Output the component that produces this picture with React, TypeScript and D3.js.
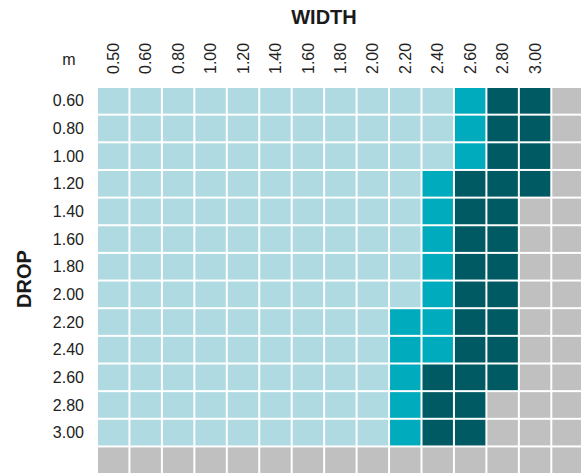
import React, { useRef, useEffect } from 'react';
import * as d3 from 'd3';

// width (columns) and drop (rows) values, in metres
const widths = ['0.50', '0.60', '0.80', '1.00', '1.20', '1.40', '1.60', '1.80', '2.00', '2.20', '2.40', '2.60', '2.80', '3.00', ''];
const drops = ['0.60', '0.80', '1.00', '1.20', '1.40', '1.60', '1.80', '2.00', '2.20', '2.40', '2.60', '2.80', '3.00', ''];

// class per cell: L = light, T = teal, D = dark, G = not available
const cells = [
  'LLLLLLLLLLLTDDG',
  'LLLLLLLLLLLTDDG',
  'LLLLLLLLLLLTDDG',
  'LLLLLLLLLLTDDDG',
  'LLLLLLLLLLTDDGG',
  'LLLLLLLLLLTDDGG',
  'LLLLLLLLLLTDDGG',
  'LLLLLLLLLLTDDGG',
  'LLLLLLLLLTTDDGG',
  'LLLLLLLLLTTDDGG',
  'LLLLLLLLLTDDDGG',
  'LLLLLLLLLTDDGGG',
  'LLLLLLLLLTDDGGG',
  'GGGGGGGGGGGGGGG',
];

const classColors: Record<string, string> = {
  L: '#b0dae2',
  T: '#00abbd',
  D: '#005a63',
  G: '#c0c0c0',
};

const W = 581;
const H = 473;

const App = () => {
  const svgRef = useRef<SVGSVGElement>(null);

  useEffect(() => {
    draw();
  }, []);

  const draw = () => {
    const svg = d3.select(svgRef.current);
    svg.selectAll('*').remove();

    const font = '"Liberation Sans", Arial, sans-serif';
    const left = 97;
    const top = 87;
    const colW = 32.45;
    const rowH = 27.65;

    const x = d3.scaleBand().domain(widths.map((d, i) => i + '')).range([left, left + widths.length * colW]);
    const y = d3.scaleBand().domain(drops.map((d, i) => i + '')).range([top, top + drops.length * rowH]);

    // flatten to cell records
    const data: { r: number; c: number; k: string }[] = [];
    cells.forEach((row, r) => {
      row.split('').forEach((k, c) => data.push({ r, c, k }));
    });

    svg.append('g')
      .selectAll('rect')
      .data(data)
      .enter()
      .append('rect')
      .attr('x', (d) => (x(d.c + '') as number) + 1)
      .attr('y', (d) => (y(d.r + '') as number) + 1)
      .attr('width', x.bandwidth() - 2)
      .attr('height', y.bandwidth() - 2)
      .attr('fill', (d) => classColors[d.k]);

    // column labels, reading upwards
    svg.append('g')
      .selectAll('text')
      .data(widths.filter((d) => d !== ''))
      .enter()
      .append('text')
      .attr('transform', (d, i) => `translate(${(x(i + '') as number) + x.bandwidth() / 2},74) rotate(-90)`)
      .attr('dy', '0.35em')
      .attr('text-anchor', 'start')
      .style('font-family', font)
      .style('font-size', '16px')
      .attr('fill', '#222')
      .text((d) => d);

    // row labels
    svg.append('g')
      .selectAll('text')
      .data(drops.filter((d) => d !== ''))
      .enter()
      .append('text')
      .attr('x', 84)
      .attr('y', (d, i) => (y(i + '') as number) + y.bandwidth() / 2)
      .attr('dy', '0.35em')
      .attr('text-anchor', 'end')
      .style('font-family', font)
      .style('font-size', '16px')
      .attr('fill', '#222')
      .text((d) => d);

    // unit
    svg.append('text')
      .attr('x', 69)
      .attr('y', 64.5)
      .attr('text-anchor', 'middle')
      .style('font-family', font)
      .style('font-size', '16px')
      .attr('fill', '#222')
      .text('m');

    // axis titles
    svg.append('text')
      .attr('x', 324)
      .attr('y', 24)
      .attr('text-anchor', 'middle')
      .style('font-family', font)
      .style('font-size', '20px')
      .style('font-weight', 'bold')
      .attr('fill', '#1a1a1a')
      .text('WIDTH');

    svg.append('text')
      .attr('transform', 'translate(31,279) rotate(-90)')
      .attr('text-anchor', 'middle')
      .style('font-family', font)
      .style('font-size', '20px')
      .style('font-weight', 'bold')
      .attr('fill', '#1a1a1a')
      .text('DROP');
  };

  return (
    <svg ref={svgRef} width={W} height={H} style={{ position: 'absolute', left: 0, top: 0, background: '#fff' }} />
  );
};

export default App;
